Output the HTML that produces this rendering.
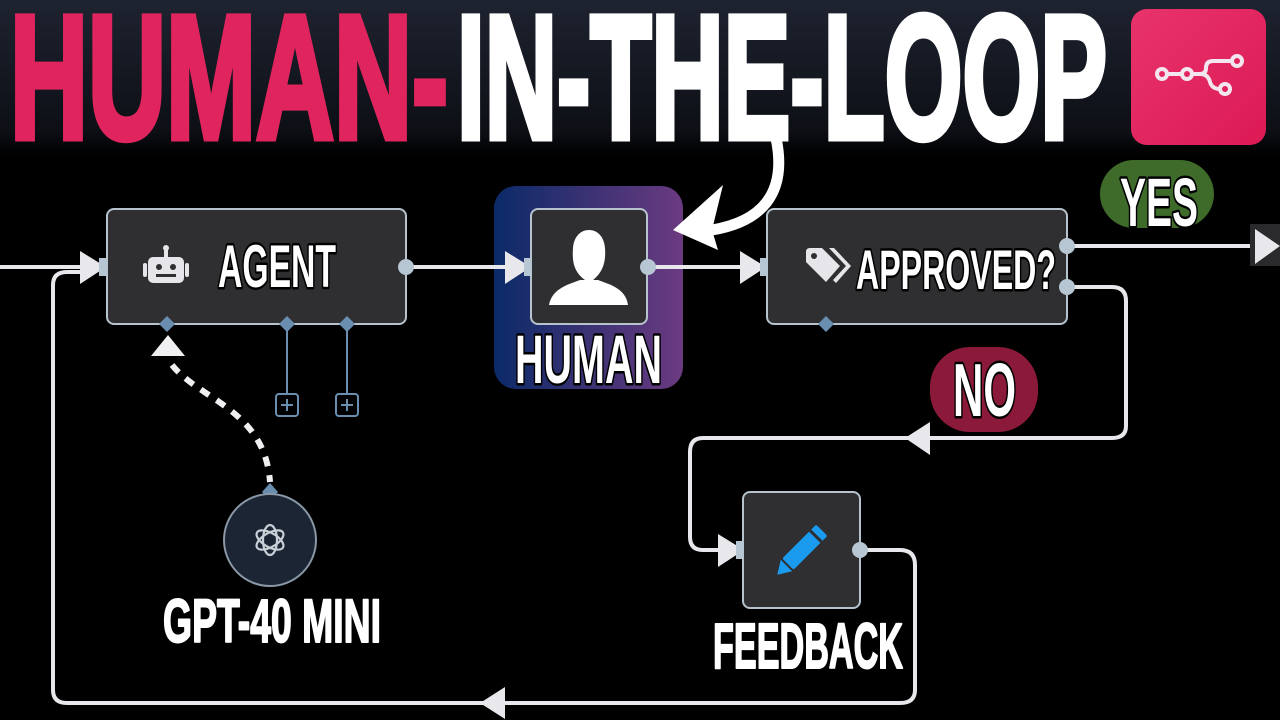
<!DOCTYPE html>
<html><head><meta charset="utf-8"><style>
html,body{margin:0;padding:0;background:#000;}
svg{display:block}
.lbl{font-family:"Liberation Sans",sans-serif;font-weight:bold;fill:#fff;stroke:#000;stroke-width:5;paint-order:stroke;stroke-linejoin:round}
</style></head><body>
<svg width="1280" height="720" viewBox="0 0 1280 720" xmlns="http://www.w3.org/2000/svg">
<defs>
<linearGradient id="hdr" x1="0" y1="0" x2="0" y2="1"><stop offset="0" stop-color="#1e2330"/><stop offset="0.85" stop-color="#0d0f15"/><stop offset="1" stop-color="#000"/></linearGradient>
<linearGradient id="hum" x1="0" y1="0" x2="1" y2="0"><stop offset="0" stop-color="#0b2a68"/><stop offset="1" stop-color="#6b3a80"/></linearGradient>
<linearGradient id="logo" x1="0" y1="0" x2="1" y2="1"><stop offset="0" stop-color="#e8336b"/><stop offset="1" stop-color="#dc1a55"/></linearGradient>
</defs>
<rect width="1280" height="720" fill="#000"/>
<rect width="1280" height="155" fill="url(#hdr)"/>
<!-- title -->
<text x="10" y="138" font-family="Liberation Sans" font-weight="bold" font-size="176" fill="#e0245e" stroke="#e0245e" stroke-width="7" textLength="438" lengthAdjust="spacingAndGlyphs">HUMAN-</text>
<text x="457" y="138" font-family="Liberation Sans" font-weight="bold" font-size="176" fill="#fff" stroke="#fff" stroke-width="7" textLength="650" lengthAdjust="spacingAndGlyphs">IN-THE-LOOP</text>
<!-- logo -->
<rect x="1131" y="9" width="135" height="136" rx="16" fill="url(#logo)"/>
<g fill="none" stroke="#f3e6ee" stroke-width="4">
<circle cx="1162" cy="74" r="5"/><circle cx="1187" cy="74" r="5"/>
<circle cx="1237" cy="61" r="5"/><circle cx="1225" cy="89" r="5"/>
<path d="M1167,74 H1182 M1192,74 H1200 Q1206,74 1206,68 Q1206,61 1213,61 H1232 M1200,74 Q1208,74 1210,82 Q1212,89 1220,89"/>
</g>
<!-- human highlight -->
<rect x="494" y="186" width="189" height="203" rx="22" fill="url(#hum)"/>
<!-- connectors -->
<g fill="none" stroke="#e8e8ec" stroke-width="4">
<path d="M0,267 H85"/>
<path d="M860,550 H900 Q915,550 915,565 V690 Q915,703 900,703 H67 Q53,703 53,690 V285 Q53,272 67,272 H85"/>
<path d="M406,267 H510"/>
<path d="M648,267 H745"/>
<path d="M1067,246 H1255"/>
<path d="M1067,287 H1112 Q1126,287 1126,301 V426 Q1126,438 1112,438 H703 Q690,438 690,452 V537 Q690,550 703,550 H722"/>
</g>
<g fill="#e8e8ec">
<polygon points="80,251 80,284 106,267"/>
<polygon points="505,251 505,284 531,267"/>
<polygon points="740,251 740,284 766,267"/>
<polygon points="718,534 718,567 744,550"/>
<polygon points="930,422 930,455 905,438"/>
<polygon points="505,687 505,719 480,703"/>
</g>
<rect x="1250" y="224" width="30" height="42" fill="#2a2a2c"/>
<polygon points="1255,229 1255,264 1280,246" fill="#e8e8ec"/>
<!-- nodes -->
<g fill="#2f2f31" stroke="#b6c2cc" stroke-width="2">
<rect x="107" y="209" width="299" height="115" rx="7"/>
<rect x="531" y="209" width="116" height="115" rx="7"/>
<rect x="767" y="209" width="300" height="115" rx="7"/>
<rect x="743" y="492" width="117" height="116" rx="7"/>
</g>
<g fill="#b6c6d2">
<rect x="99" y="258" width="8" height="18"/>
<rect x="524" y="258" width="8" height="18"/>
<rect x="760" y="258" width="8" height="18"/>
<rect x="736" y="541" width="8" height="18"/>
<circle cx="406" cy="267" r="8"/><circle cx="648" cy="267" r="8"/>
<circle cx="1067" cy="246" r="8"/><circle cx="1067" cy="287" r="8"/><circle cx="860" cy="550" r="8"/>
</g>
<!-- sub connectors -->
<g fill="#6a8eb0">
<polygon points="167,316 175,324 167,332 159,324"/>
<polygon points="287,316 295,324 287,332 279,324"/>
<polygon points="347,316 355,324 347,332 339,324"/>
<polygon points="826,316 834,324 826,332 818,324"/>
<polygon points="270,483 278,492 270,500 262,492"/>
</g>
<g stroke="#6a8eb0" stroke-width="2" fill="none">
<path d="M287,330 V394 M347,330 V394"/>
<rect x="276" y="394" width="22" height="22" rx="3"/><rect x="336" y="394" width="22" height="22" rx="3"/>
<path d="M287,399 V411 M281,405 H293 M347,399 V411 M341,405 H353"/>
</g>
<polygon points="168,335 151,356 185,356" fill="#f0f0f2"/>
<path d="M172,365 C200,400 265,410 270,482" fill="none" stroke="#f0f0f2" stroke-width="6" stroke-dasharray="10,9"/>
<!-- gpt circle -->
<circle cx="270" cy="540" r="46" fill="#1c2533" stroke="#8a97a6" stroke-width="2"/>
<g fill="none" stroke="#c8cfd6" stroke-width="2.2">
<ellipse cx="270" cy="540" rx="7" ry="15"/>
<ellipse cx="270" cy="540" rx="7" ry="15" transform="rotate(60 270 540)"/>
<ellipse cx="270" cy="540" rx="7" ry="15" transform="rotate(120 270 540)"/>
</g>
<!-- icons -->
<g fill="#e6e6ea">
<rect x="148" y="257" width="36" height="26" rx="5"/>
<rect x="143" y="263" width="4" height="14" rx="2"/><rect x="185" y="263" width="4" height="14" rx="2"/>
<rect x="164" y="248" width="4" height="9"/><circle cx="166" cy="248" r="3"/>
</g>
<g fill="#2f2f31"><circle cx="159" cy="267" r="3"/><circle cx="173" cy="267" r="3"/><rect x="156" y="274" width="20" height="3"/></g>
<path d="M568,300 C568,288 580,284 585,280 C574,272 572,262 573,248 C574,236 581,230 589,230 C597,230 604,236 605,248 C606,262 603,272 593,280 C598,284 610,288 610,304 L568,304 Z" fill="#fff"/>
<path d="M549,305 C552,288 570,284 580,280 L598,280 C608,284 626,288 628,305 Z" fill="#fff"/>
<g fill="#e6e6ea">
<path d="M806,262 V252 Q806,248 810,248 H822 L840,266 L826,282 Z"/>
<path d="M829,248 H834 L851,266 L836,283 L833,280 L846,266 Z"/>
</g>
<circle cx="814" cy="256" r="3" fill="#2f2f31"/>
<g transform="rotate(45 802 550)"><rect x="794" y="522" width="16" height="48" rx="2" fill="#1a9bf0"/><polygon points="794,572 810,572 802,585" fill="#1a9bf0"/><rect x="794" y="529" width="16" height="3" fill="#2f2f31"/></g>
<!-- pills -->
<rect x="1100" y="160" width="114" height="68" rx="34" fill="#3f6b2a"/>
<rect x="930" y="347" width="108" height="85" rx="40" fill="#8b1a3a"/>
<!-- big arrow -->
<path d="M776,138 C788,195 760,222 712,230" fill="none" stroke="#fff" stroke-width="11"/>
<polygon points="673,230 723,185 712,230 718,250" fill="#fff"/>
<!-- labels -->
<g stroke-width="0"></g>
<text class="lbl" x="218" y="287" font-size="60" textLength="118" lengthAdjust="spacingAndGlyphs">AGENT</text>
<text class="lbl" x="856" y="289" font-size="56" textLength="200" lengthAdjust="spacingAndGlyphs">APPROVED?</text>
<text class="lbl" x="515" y="383" font-size="69" textLength="147" lengthAdjust="spacingAndGlyphs">HUMAN</text>
<text class="lbl" x="1120" y="226" font-size="69" textLength="78" lengthAdjust="spacingAndGlyphs">YES</text>
<text class="lbl" x="953" y="416" font-size="75" textLength="63" lengthAdjust="spacingAndGlyphs">NO</text>
<text class="lbl" x="163" y="642" font-size="61" textLength="218" lengthAdjust="spacingAndGlyphs" style="stroke:#fff;stroke-width:2">GPT-40 MINI</text>
<text class="lbl" x="713" y="668" font-size="64" textLength="190" lengthAdjust="spacingAndGlyphs" style="stroke:#fff;stroke-width:2">FEEDBACK</text>
</svg>
</body></html>
